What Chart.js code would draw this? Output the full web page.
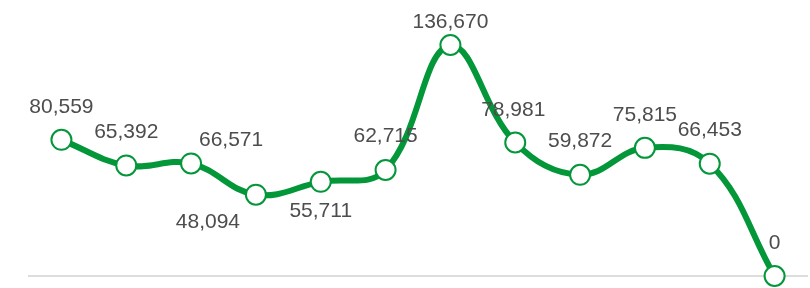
<!DOCTYPE html>
<html>
<head>
<meta charset="utf-8">
<script src="https://cdn.jsdelivr.net/npm/chart.js@4/dist/chart.umd.min.js"></script>
<style>
  html, body { margin: 0; padding: 0; background: #fff; }
  #wrap { width: 810px; height: 288px; }
</style>
</head>
<body>
<div id="wrap"><canvas id="lineChart" width="810" height="288"></canvas></div>
<script>
// chart values
const categories = ["1", "2", "3", "4", "5", "6", "7", "8", "9", "10", "11", "12"];
const values = [80559, 65392, 66571, 48094, 55711, 62715, 136670, 78981, 59872, 75815, 66453, 0];

// label nudges (px) relative to each point, to keep text off the line
const labelDx = [0, 0, 40, -48, 0, 0, 0, -2, 0, 0, 0, 0];
const labelDy = [-33, -33, -23, 27, 29, -34, -23, -32, -34, -33, -33, -33];

const valueLabels = {
  id: "valueLabels",
  afterDatasetsDraw(chart) {
    const ctx = chart.ctx;
    const meta = chart.getDatasetMeta(0);
    ctx.save();
    ctx.font = "21px 'Liberation Sans', Arial, sans-serif";
    ctx.fillStyle = "#4d4d4d";
    ctx.textAlign = "center";
    ctx.textBaseline = "middle";
    meta.data.forEach((pt, i) => {
      const { x, y } = pt.getProps(["x", "y"], true);
      ctx.fillText(values[i].toLocaleString("en-US"), x + labelDx[i], y + labelDy[i]);
    });
    ctx.restore();
  },
};

const ctx = document.getElementById("lineChart").getContext("2d");
new Chart(ctx, {
  type: "line",
  data: {
    labels: categories,
    datasets: [
      {
        data: values,
        borderColor: "#03973a",
        borderWidth: 6,
        tension: 0.4,
        clip: false,
        pointRadius: 10,
        pointHoverRadius: 10,
        pointBackgroundColor: "#ffffff",
        pointBorderColor: "#03973a",
        pointBorderWidth: 2,
        fill: false,
      },
    ],
  },
  options: {
    responsive: false,
    animation: false,
    layout: { autoPadding: false, padding: { top: 45, left: 29, right: 3, bottom: 4 } },
    plugins: {
      legend: { display: false },
      tooltip: { enabled: false },
    },
    scales: {
      x: {
        offset: true,
        ticks: { display: false },
        grid: { display: false },
        border: { display: true, color: "#dddddd", width: 2 },
      },
      y: {
        display: false,
        min: 0,
        max: 136670,
      },
    },
  },
  plugins: [valueLabels],
});
</script>
</body>
</html>
